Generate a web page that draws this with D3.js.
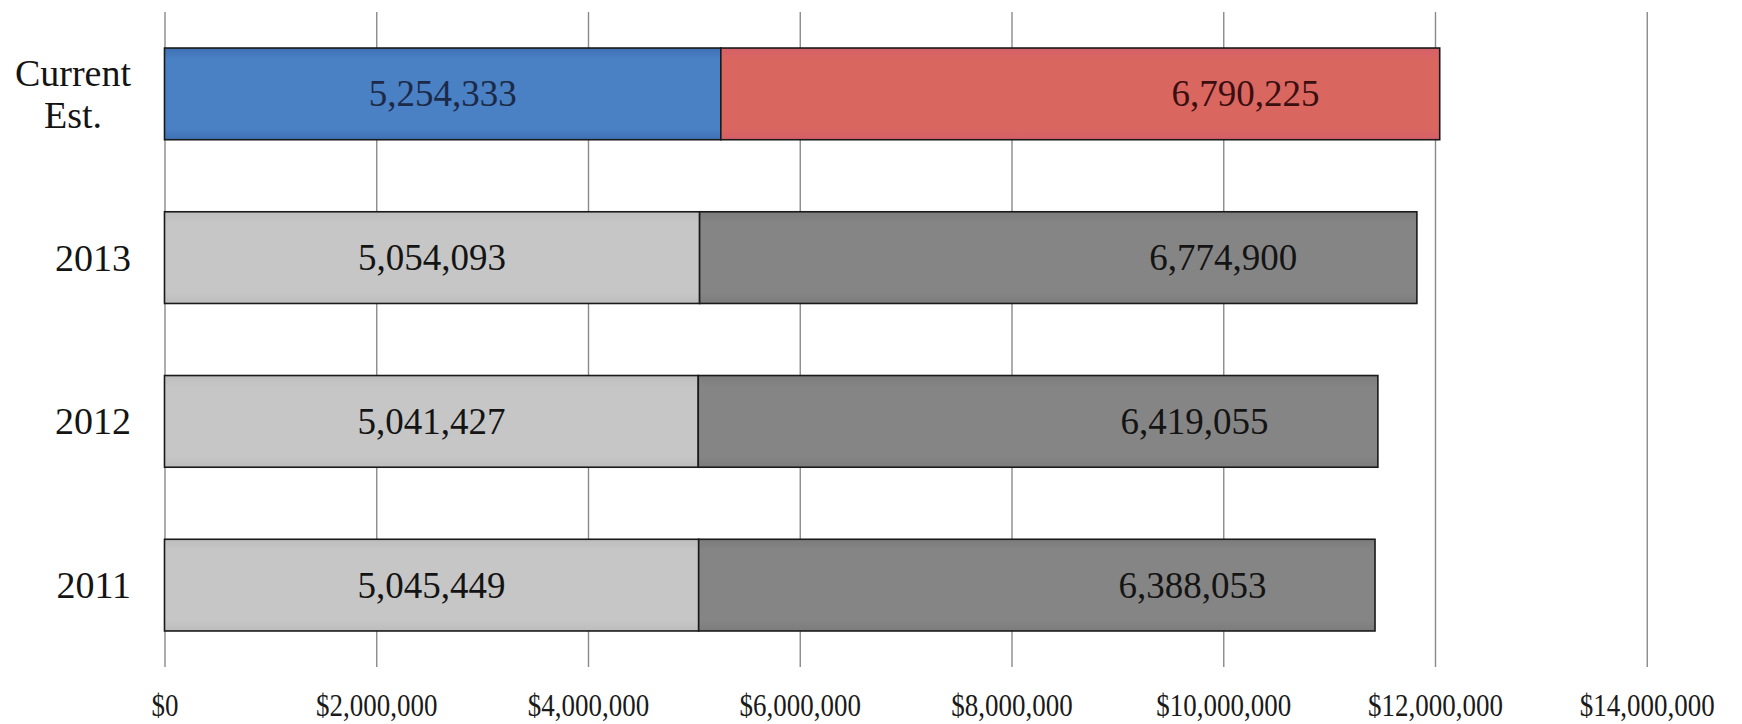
<!DOCTYPE html>
<html>
<head>
<meta charset="utf-8">
<script src="https://cdn.jsdelivr.net/npm/d3@7"></script>
<style>
  html, body { margin: 0; padding: 0; background: #ffffff; }
  svg { display: block; }
  text { font-family: "Liberation Serif", "DejaVu Serif", serif; }
</style>
</head>
<body>
<svg id="chart" width="1742" height="724"></svg>
<script>
// Budget by year: first portion and remaining portion, stacked
const categories = ["Current Est.", "2013", "2012", "2011"];
const firstValues = [5254333, 5054093, 5041427, 5045449];
const secondValues = [6790225, 6774900, 6419055, 6388053];
const tickValues = [0, 2000000, 4000000, 6000000, 8000000, 10000000, 12000000, 14000000];

const rows = categories.map((c, i) => ({ category: c, first: firstValues[i], second: secondValues[i] }));

const svg = d3.select("#chart");
const plot = { left: 164.5, right: 1646.75, top: 12, bottom: 667 };

const x = d3.scaleLinear().domain([0, 14000000]).range([plot.left, plot.right]);
const y = d3.scaleBand().domain(categories).range([plot.top, plot.bottom])
  .paddingInner(0.44).paddingOuter(0.22);

// Fill gradients
const defs = svg.append("defs");
function grad(id, edge, mid) {
  const g = defs.append("linearGradient").attr("id", id)
    .attr("x1", 0).attr("y1", 0).attr("x2", 0).attr("y2", 1);
  g.append("stop").attr("offset", "0%").attr("stop-color", edge);
  g.append("stop").attr("offset", "12%").attr("stop-color", mid);
  g.append("stop").attr("offset", "88%").attr("stop-color", mid);
  g.append("stop").attr("offset", "100%").attr("stop-color", edge);
}
grad("g-blue", "#3f70b4", "#4a80c4");
grad("g-red", "#d4606a", "#da6660");
grad("g-light", "#bdbdbd", "#c6c6c6");
grad("g-dark", "#7c7c7c", "#858585");

const fills = {
  "Current Est.": { first: "url(#g-blue)", second: "url(#g-red)", firstText: "#1c2a48", secondText: "#3a0f10" },
  other: { first: "url(#g-light)", second: "url(#g-dark)", firstText: "#141414", secondText: "#141414" }
};
const style = c => fills[c] || fills.other;

// Vertical gridlines with tick labels
const axis = d3.axisBottom(x)
  .tickValues(tickValues)
  .tickFormat(d3.format("$,"))
  .tickSize(-(plot.bottom - plot.top))
  .tickPadding(27);

const gAxis = svg.append("g")
  .attr("transform", `translate(0,${plot.bottom})`)
  .call(axis);
gAxis.select(".domain").remove();
gAxis.selectAll(".tick line").attr("stroke", "#8a8a8a").attr("stroke-width", 1.4);
gAxis.selectAll(".tick text")
  .attr("fill", "#1a1a1a")
  .style("font-size", "31px")
  .style("font-family", "'Liberation Serif', serif")
  .each(function () {
    // narrow, condensed tick lettering
    const len = this.getComputedTextLength();
    d3.select(this).attr("textLength", len * 0.87).attr("lengthAdjust", "spacingAndGlyphs");
  });

// Stacked bars
const stack = d3.stack().keys(["first", "second"]);
const series = stack(rows);

const gBars = svg.append("g");
series.forEach(s => {
  gBars.selectAll(null)
    .data(s)
    .join("rect")
    .attr("x", d => x(d[0]))
    .attr("y", d => y(d.data.category))
    .attr("width", d => x(d[1]) - x(d[0]))
    .attr("height", y.bandwidth())
    .attr("fill", d => style(d.data.category)[s.key])
    .attr("stroke", "#1a1a1a")
    .attr("stroke-width", 1.6);
});

// Value labels: first portion centred, second portion placed toward its end
const secondLabelPos = 0.73;
const gLabels = svg.append("g").style("font-size", "37px");
series.forEach(s => {
  gLabels.selectAll(null)
    .data(s)
    .join("text")
    .attr("x", d => s.key === "first"
      ? x((d[0] + d[1]) / 2)
      : x(d[0] + (d[1] - d[0]) * secondLabelPos))
    .attr("y", d => y(d.data.category) + y.bandwidth() / 2)
    .attr("dy", "0.34em")
    .attr("text-anchor", "middle")
    .attr("fill", d => style(d.data.category)[s.key + "Text"])
    .text(d => d3.format(",")(d[1] - d[0]));
});

// Category labels; multi-word labels wrap onto centred lines
const labelRight = 131;
const gCats = svg.append("g").style("font-size", "38px").attr("fill", "#141414");
categories.forEach(c => {
  const words = c.split(" ");
  const cy = y(c) + y.bandwidth() / 2;
  const t = gCats.append("text").attr("text-anchor", "middle");
  const lineH = 42;
  const tspans = words.map((w, i) => t.append("tspan")
    .attr("y", cy + (i - (words.length - 1) / 2) * lineH)
    .attr("dy", "0.34em")
    .text(w));
  const widest = d3.max(tspans, ts => ts.node().getComputedTextLength());
  tspans.forEach(ts => ts.attr("x", labelRight - widest / 2));
});
</script>
</body>
</html>
